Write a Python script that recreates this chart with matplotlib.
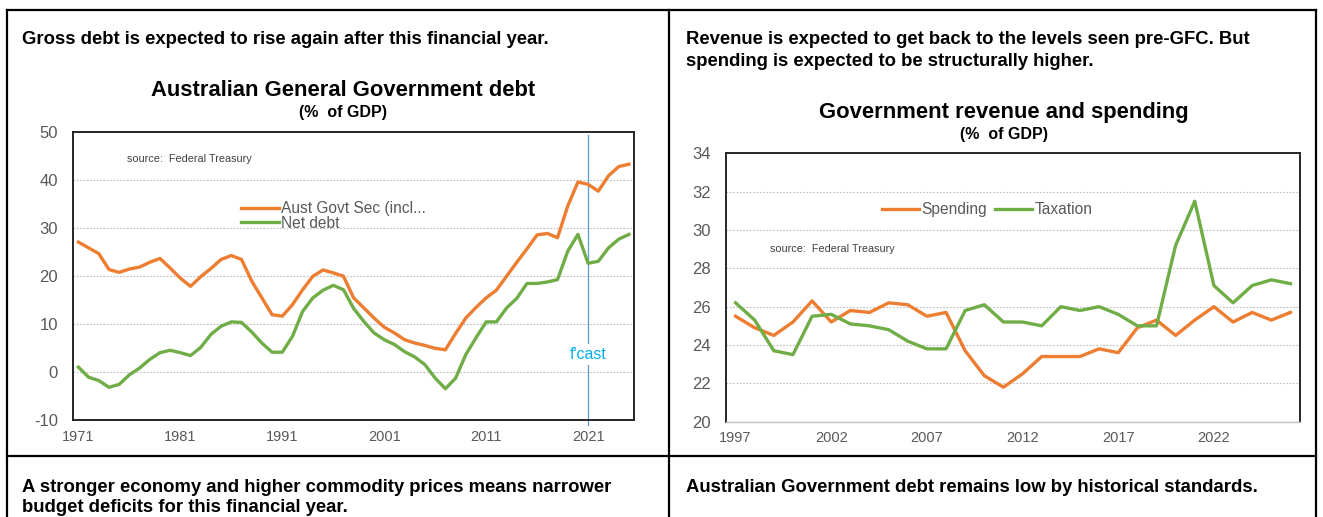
import matplotlib
matplotlib.use("Agg")
import matplotlib.pyplot as plt
from matplotlib.lines import Line2D
import numpy as np

plt.rcParams['font.family'] = ['Liberation Sans', 'DejaVu Sans']
plt.rcParams['axes.unicode_minus'] = False

# ---- Australian General Government debt (% of GDP), 1971-2025 ----
debt_years = list(range(1971, 2026))
gross_debt = [27.0, 25.8, 24.6, 21.3, 20.7, 21.4, 21.8, 22.8, 23.6, 21.6,
              19.5, 17.8, 19.8, 21.5, 23.4, 24.2, 23.4, 18.9, 15.4, 11.9,
              11.6, 14.0, 17.1, 19.9, 21.2, 20.6, 19.9, 15.4, 13.3, 11.2,
              9.3, 8.1, 6.7, 6.0, 5.5, 4.9, 4.6, 8.0, 11.2, 13.4,
              15.4, 17.0, 19.9, 22.8, 25.6, 28.5, 28.8, 27.9, 34.5, 39.5,
              39.0, 37.6, 40.8, 42.7, 43.2]
net_debt = [1.0, -1.1, -1.8, -3.2, -2.6, -0.6, 0.8, 2.6, 4.0, 4.5,
            4.0, 3.4, 5.1, 7.8, 9.5, 10.4, 10.3, 8.3, 6.0, 4.1,
            4.1, 7.4, 12.6, 15.4, 17.0, 18.0, 17.1, 13.2, 10.5, 8.1,
            6.7, 5.7, 4.2, 3.1, 1.5, -1.3, -3.5, -1.3, 3.6, 7.1,
            10.4, 10.4, 13.3, 15.3, 18.4, 18.4, 18.7, 19.2, 25.1, 28.6,
            22.6, 23.0, 25.8, 27.6, 28.6]
debt_labels = ["Aust Govt Sec (incl...", "Net debt"]
debt_xticks = [1971, 1981, 1991, 2001, 2011, 2021]
forecast_year = 2021

# ---- Government revenue and spending (% of GDP), 1997-2026 ----
rs_years = list(range(1997, 2027))
spending = [25.5, 24.9, 24.5, 25.2, 26.3, 25.2, 25.8, 25.7, 26.2, 26.1,
            25.5, 25.7, 23.7, 22.4, 21.8, 22.5, 23.4, 23.4, 23.4, 23.8,
            23.6, 24.9, 25.3, 24.5, 25.3, 26.0, 25.2, 25.7, 25.3, 25.7]
taxation = [26.2, 25.3, 23.7, 23.5, 25.5, 25.6, 25.1, 25.0, 24.8, 24.2,
            23.8, 23.8, 25.8, 26.1, 25.2, 25.2, 25.0, 26.0, 25.8, 26.0,
            25.6, 25.0, 25.0, 29.2, 31.5, 27.1, 26.2, 27.1, 27.4, 27.2]
rs_labels = ["Spending", "Taxation"]
rs_xticks = [1997, 2002, 2007, 2012, 2017, 2022]

ORANGE = "#ED7D31"
GREEN = "#70AD47"
GREY_TXT = "#595959"
GRID = "#BFBFBF"

W, H = 1323, 517
fig = plt.figure(figsize=(W / 100, H / 100), dpi=100)


def fx(px):
    return px / W


def fy(py):
    return 1 - py / H


# ---- table frame ----
frame_kw = dict(color="black", lw=1.6, transform=fig.transFigure, clip_on=False)
fig.add_artist(Line2D([fx(7), fx(1316)], [fy(10), fy(10)], **frame_kw))
fig.add_artist(Line2D([fx(7), fx(1316)], [fy(456), fy(456)], **frame_kw))
fig.add_artist(Line2D([fx(7), fx(7)], [fy(10), fy(517)], **frame_kw))
fig.add_artist(Line2D([fx(669), fx(669)], [fy(10), fy(517)], **frame_kw))
fig.add_artist(Line2D([fx(1316), fx(1316)], [fy(10), fy(517)], **frame_kw))

head_kw = dict(fontsize=13.3, fontweight="bold", color="black", va="center", ha="left")
fig.text(fx(22), fy(40), "Gross debt is expected to rise again after this financial year.", **head_kw)
fig.text(fx(686), fy(40), "Revenue is expected to get back to the levels seen pre-GFC. But", **head_kw)
fig.text(fx(686), fy(62), "spending is expected to be structurally higher.", **head_kw)
fig.text(fx(22), fy(487), "A stronger economy and higher commodity prices means narrower", **head_kw)
fig.text(fx(22), fy(508), "budget deficits for this financial year.", **head_kw)
fig.text(fx(686), fy(487), "Australian Government debt remains low by historical standards.", **head_kw)


def style_ticks(ax):
    ax.tick_params(axis="x", length=0, labelsize=10.5, labelcolor=GREY_TXT, pad=7)
    ax.tick_params(axis="y", length=0, labelsize=12, labelcolor=GREY_TXT, pad=11)


# ---- left panel: debt ----
ax1 = fig.add_axes([fx(73.3), fy(420), fx(634 - 73.3), (420 - 131.5) / H])
l1, = ax1.plot(debt_years, gross_debt, color=ORANGE, lw=2.4, solid_joinstyle="round")
l2, = ax1.plot(debt_years, net_debt, color=GREEN, lw=2.4, solid_joinstyle="round")
ax1.set_xlim(debt_years[0] - 0.5, debt_years[-1] + 0.5)
ax1.set_ylim(-10, 50)
ax1.set_yticks(np.arange(-10, 51, 10))
ax1.set_xticks(debt_xticks)
style_ticks(ax1)
for y in range(0, 50, 10):
    ax1.axhline(y, color=GRID, lw=0.8, ls=(0, (1.5, 1.5)), zorder=0)
for s in ax1.spines.values():
    s.set_color("#262626")
    s.set_linewidth(1.4)
ax1.axvline(forecast_year, ymin=-0.018, ymax=0.988, color="#5B9BD5", lw=0.9,
            clip_on=False, zorder=1)
ax1.text(forecast_year, 3.6, "f'cast", color="#00B0F0", fontsize=11.5, ha="center",
         va="center", zorder=2,
         bbox=dict(facecolor="white", edgecolor="none", pad=2.0))
ax1.text(1975.8, 44.2, "source:  Federal Treasury", fontsize=7.8, color="#404040",
         va="center", ha="left")
ax1.legend([l1, l2], debt_labels, loc="upper left", bbox_to_anchor=(0.286, 0.785),
           frameon=False, fontsize=11.2, labelcolor=GREY_TXT, handlelength=2.4,
           handletextpad=0.15, labelspacing=-0.05, borderpad=0)
fig.text(fx(343), fy(90), "Australian General Government debt", fontsize=15.8,
         fontweight="bold", ha="center", va="center")
fig.text(fx(343), fy(112), "(%  of GDP)", fontsize=11.5, fontweight="bold",
         ha="center", va="center")

# ---- right panel: revenue and spending ----
ax2 = fig.add_axes([fx(726), fy(421.7), fx(1300 - 726), (421.7 - 153.3) / H])
r1, = ax2.plot(rs_years, spending, color=ORANGE, lw=2.4, solid_joinstyle="round")
r2, = ax2.plot(rs_years, taxation, color=GREEN, lw=2.4, solid_joinstyle="round")
ax2.set_xlim(rs_years[0] - 0.5, rs_years[-1] + 0.5)
ax2.set_ylim(20, 34)
ax2.set_yticks(np.arange(20, 35, 2))
ax2.set_xticks(rs_xticks)
style_ticks(ax2)
for y in range(22, 34, 2):
    ax2.axhline(y, color=GRID, lw=0.8, ls=(0, (1.5, 1.5)), zorder=0)
for name, s in ax2.spines.items():
    s.set_color("#262626" if name != "bottom" else GRID)
    s.set_linewidth(1.4 if name != "bottom" else 1.0)
ax2.text(1998.8, 29.0, "source:  Federal Treasury", fontsize=7.8, color="#404040",
         va="center", ha="left")
ax2.legend([r1, r2], rs_labels, loc="center", bbox_to_anchor=(0.455, 0.79), ncol=2,
           frameon=False, fontsize=11.2, labelcolor=GREY_TXT, handlelength=2.4,
           handletextpad=0.15, columnspacing=0.5, borderpad=0)
fig.text(fx(1004), fy(112.5), "Government revenue and spending", fontsize=15.8,
         fontweight="bold", ha="center", va="center")
fig.text(fx(1004), fy(134), "(%  of GDP)", fontsize=11.5, fontweight="bold",
         ha="center", va="center")

fig.savefig("out.png", dpi=100)
